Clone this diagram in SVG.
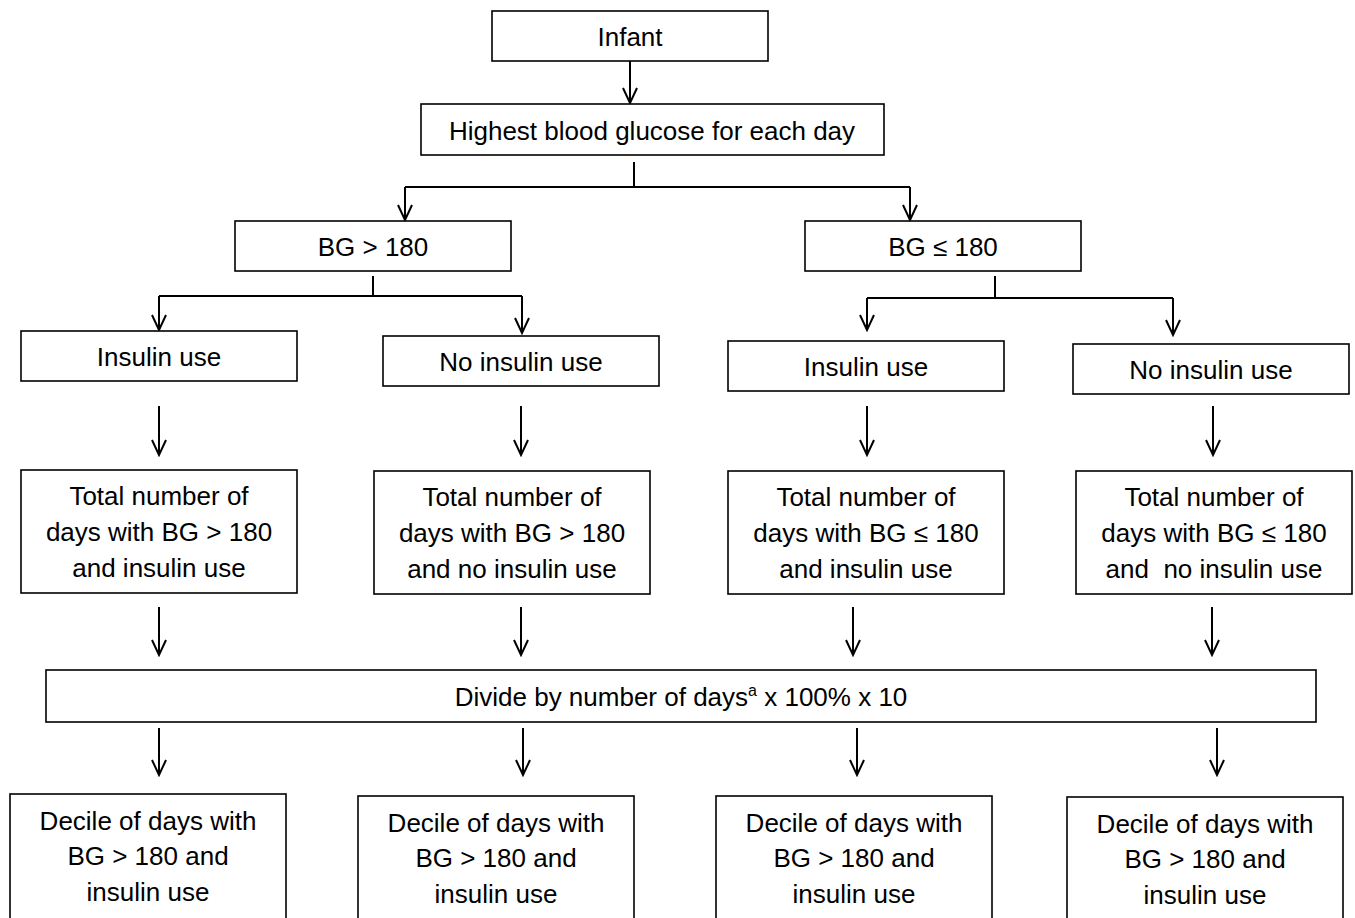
<svg xmlns="http://www.w3.org/2000/svg" width="1355" height="918" viewBox="0 0 1355 918">
<defs>
<marker id="ah" markerUnits="userSpaceOnUse" markerWidth="20" markerHeight="20" viewBox="-18 -10 20 20" refX="0" refY="0" orient="auto">
<path d="M-15,-7 L0,0 L-15,7" fill="none" stroke="#000" stroke-width="2"/>
</marker>
<style>
rect{fill:#fff;stroke:#000;stroke-width:1.6}
text{font-family:"Liberation Sans",Arial,sans-serif;font-size:26px;text-anchor:middle;fill:#000}
.c line,.c path{stroke:#000;stroke-width:2;fill:none}
</style>
</defs>
<rect width="1355" height="918" style="fill:#fff;stroke:none"/>
<g class="c" id="connectors">
<line x1="630" y1="61" x2="630" y2="103" marker-end="url(#ah)"/>
<path d="M634,162 V187"/>
<path d="M405,187 H910"/>
<line x1="405" y1="187" x2="405" y2="220" marker-end="url(#ah)"/>
<line x1="910" y1="187" x2="910" y2="220" marker-end="url(#ah)"/>
<path d="M373,276 V296 M159,296 H522"/>
<line x1="159" y1="296" x2="159" y2="330" marker-end="url(#ah)"/>
<line x1="522" y1="296" x2="522" y2="333" marker-end="url(#ah)"/>
<path d="M995,276 V298 M867,298 H1173"/>
<line x1="867" y1="298" x2="867" y2="330" marker-end="url(#ah)"/>
<line x1="1173" y1="298" x2="1173" y2="335" marker-end="url(#ah)"/>
<line x1="159" y1="406" x2="159" y2="455" marker-end="url(#ah)"/>
<line x1="521" y1="406" x2="521" y2="455" marker-end="url(#ah)"/>
<line x1="867" y1="406" x2="867" y2="455" marker-end="url(#ah)"/>
<line x1="1213" y1="406" x2="1213" y2="455" marker-end="url(#ah)"/>
<line x1="159" y1="607" x2="159" y2="655" marker-end="url(#ah)"/>
<line x1="521" y1="607" x2="521" y2="655" marker-end="url(#ah)"/>
<line x1="853" y1="607" x2="853" y2="655" marker-end="url(#ah)"/>
<line x1="1212" y1="607" x2="1212" y2="655" marker-end="url(#ah)"/>
<line x1="159" y1="728" x2="159" y2="775" marker-end="url(#ah)"/>
<line x1="523" y1="728" x2="523" y2="775" marker-end="url(#ah)"/>
<line x1="857" y1="728" x2="857" y2="775" marker-end="url(#ah)"/>
<line x1="1217" y1="728" x2="1217" y2="775" marker-end="url(#ah)"/>
</g>
<g id="infant"><rect x="492" y="11" width="276" height="50"/><text x="630" y="46">Infant</text></g>
<g id="highest"><rect x="421" y="104" width="463" height="51"/><text x="652" y="140">Highest blood glucose for each day</text></g>
<g id="bg-high"><rect x="235" y="221" width="276" height="50"/><text x="373" y="256">BG &gt; 180</text></g>
<g id="bg-low"><rect x="805" y="221" width="276" height="50"/><text x="943" y="256">BG ≤ 180</text></g>
<g id="ins1"><rect x="21" y="331" width="276" height="50"/><text x="159" y="366">Insulin use</text></g>
<g id="noins1"><rect x="383" y="336" width="276" height="50"/><text x="521" y="371">No insulin use</text></g>
<g id="ins2"><rect x="728" y="341" width="276" height="50"/><text x="866" y="376">Insulin use</text></g>
<g id="noins2"><rect x="1073" y="344" width="276" height="50"/><text x="1211" y="379">No insulin use</text></g>
<g id="total1"><rect x="21" y="470" width="276" height="123"/><text x="159" y="505">Total number of</text><text x="159" y="541">days with BG &gt; 180</text><text x="159" y="577">and insulin use</text></g>
<g id="total2"><rect x="374" y="471" width="276" height="123"/><text x="512" y="506">Total number of</text><text x="512" y="542">days with BG &gt; 180</text><text x="512" y="578">and no insulin use</text></g>
<g id="total3"><rect x="728" y="471" width="276" height="123"/><text x="866" y="506">Total number of</text><text x="866" y="542">days with BG ≤ 180</text><text x="866" y="578">and insulin use</text></g>
<g id="total4"><rect x="1076" y="471" width="276" height="123"/><text x="1214" y="506">Total number of</text><text x="1214" y="542">days with BG ≤ 180</text><text x="1214" y="578" xml:space="preserve">and  no insulin use</text></g>
<g id="divide"><rect x="46" y="670" width="1270" height="52"/><text x="681" y="706">Divide by number of days<tspan font-size="16" dy="-10">a</tspan><tspan dy="10"> x 100% x 10</tspan></text></g>
<g id="decile1"><rect x="10" y="794" width="276" height="130"/><text x="148" y="830">Decile of days with</text><text x="148" y="865">BG &gt; 180 and</text><text x="148" y="901">insulin use</text></g>
<g id="decile2"><rect x="358" y="796" width="276" height="130"/><text x="496" y="832">Decile of days with</text><text x="496" y="867">BG &gt; 180 and</text><text x="496" y="903">insulin use</text></g>
<g id="decile3"><rect x="716" y="796" width="276" height="130"/><text x="854" y="832">Decile of days with</text><text x="854" y="867">BG &gt; 180 and</text><text x="854" y="903">insulin use</text></g>
<g id="decile4"><rect x="1067" y="797" width="276" height="130"/><text x="1205" y="833">Decile of days with</text><text x="1205" y="868">BG &gt; 180 and</text><text x="1205" y="904">insulin use</text></g>
</svg>
